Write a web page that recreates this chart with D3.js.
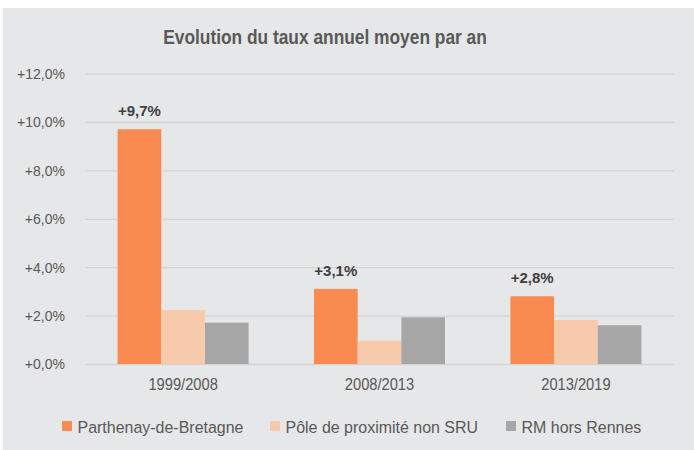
<!DOCTYPE html>
<html>
<head>
<meta charset="utf-8">
<script src="https://cdn.jsdelivr.net/npm/d3@7/dist/d3.min.js"></script>
<style>
  body { margin: 0; background: #fff; }
  text { font-family: "Liberation Sans", Arial, sans-serif; }
</style>
</head>
<body>
<svg id="chart" width="694" height="450"></svg>
<script>
// data
var periods = ["1999/2008", "2008/2013", "2013/2019"];
var seriesNames = ["Parthenay-de-Bretagne", "Pôle de proximité non SRU", "RM hors Rennes"];
var parthenay = [9.7, 3.1, 2.8];
var pole = [2.23, 0.96, 1.82];
var rmHorsRennes = [1.71, 1.93, 1.6];
var yTicks = [0, 2, 4, 6, 8, 10, 12];
var colors = ["#f98b50", "#f7caab", "#a6a6a6"];

var series = [parthenay, pole, rmHorsRennes];
var fmt = function(d) { return "+" + d.toFixed(1).replace(".", ",") + "%"; };

var svg = d3.select("#chart");

// grey panel
svg.append("rect")
    .attr("x", 3).attr("y", 8)
    .attr("width", 691).attr("height", 442)
    .attr("fill", "#e6e7e8");

var x0 = d3.scaleBand().domain(periods).range([85, 674]).paddingInner(0.333).paddingOuter(0.166);
var x1 = d3.scaleBand().domain(d3.range(series.length)).range([0, x0.bandwidth()]);
var y = d3.scaleLinear().domain([0, 12]).range([364, 73.6]);

// title (the original text is a bit condensed)
svg.append("text")
    .attr("transform", "translate(325,44) scale(0.89,1)")
    .attr("text-anchor", "middle")
    .attr("font-size", "19.5px").attr("font-weight", "bold")
    .attr("fill", "#595959")
    .text("Evolution du taux annuel moyen par an");

// gridlines + y labels
var yAxis = svg.append("g").attr("transform", "translate(85,0)")
    .call(d3.axisLeft(y).tickValues(yTicks).tickSize(-589).tickPadding(22).tickFormat(fmt));
yAxis.select(".domain").remove();
yAxis.selectAll("line").attr("stroke", "#d3d4d5").attr("stroke-width", 1.3);
yAxis.selectAll("text")
    .attr("transform", "scale(0.91,1)")
    .attr("font-size", "15.4px").attr("fill", "#595959")
    .attr("font-family", "'Liberation Sans', Arial, sans-serif");

// bars
var groups = svg.selectAll(".grp").data(periods).enter().append("g")
    .attr("transform", function(d) { return "translate(" + x0(d) + ",0)"; });

groups.selectAll("rect")
    .data(function(d, i) { return series.map(function(s, k) { return { k: k, v: s[i] }; }); })
    .enter().append("rect")
    .attr("x", function(d) { return x1(d.k); })
    .attr("width", x1.bandwidth())
    .attr("y", function(d) { return y(d.v); })
    .attr("height", function(d) { return y(0) - y(d.v); })
    .attr("fill", function(d) { return colors[d.k]; });

// value labels on first series
groups.append("text")
    .attr("x", function() { return x1(0) + x1.bandwidth() / 2; })
    .attr("y", function(d, i) { return y(parthenay[i]) - 13; })
    .attr("text-anchor", "middle")
    .attr("font-size", "15px").attr("font-weight", "bold")
    .attr("fill", "#404040")
    .text(function(d, i) { return fmt(parthenay[i]); });

// x labels
var xAxis = svg.append("g").attr("transform", "translate(0,364)")
    .call(d3.axisBottom(x0).tickSize(0).tickPadding(14));
xAxis.select(".domain").remove();
xAxis.selectAll("text")
    .attr("transform", "scale(0.89,1)")
    .attr("font-size", "16.5px").attr("fill", "#595959")
    .attr("font-family", "'Liberation Sans', Arial, sans-serif");

// legend
var legendX = [62, 270, 506];
var legend = svg.selectAll(".leg").data(seriesNames).enter().append("g")
    .attr("transform", function(d, i) { return "translate(" + legendX[i] + ",421)"; });
legend.append("rect").attr("width", 10).attr("height", 10)
    .attr("fill", function(d, i) { return colors[i]; });
legend.append("text")
    .attr("transform", "translate(15.5,11.5) scale(0.94,1)")
    .attr("font-size", "17px").attr("fill", "#595959")
    .text(function(d) { return d; });
</script>
</body>
</html>
